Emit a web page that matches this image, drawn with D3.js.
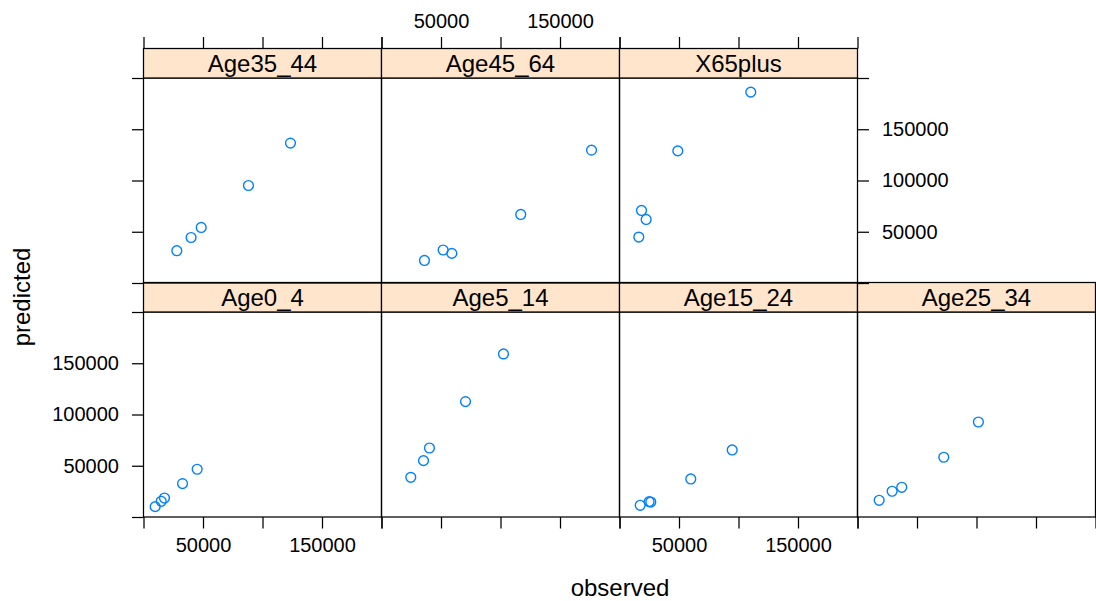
<!DOCTYPE html>
<html>
<head>
<meta charset="utf-8">
<script src="https://cdn.jsdelivr.net/npm/d3@7"></script>
<style>
  html, body { margin: 0; padding: 0; background: #fff; }
  svg { display: block; }
  text { font-family: "Liberation Sans", Arial, Helvetica, sans-serif; fill: #000; }
</style>
</head>
<body>
<svg id="chart" width="1096" height="601"></svg>
<script>
// ---- data ----
const panelNames = ["Age0_4", "Age5_14", "Age15_24", "Age25_34", "Age35_44", "Age45_64", "X65plus"];
const obsAge0_4    = [9800, 14900, 17600, 32800, 45100];
const predAge0_4   = [10100, 15300, 18500, 32600, 46600];
const obsAge5_14   = [24600, 35300, 40300, 70600, 102500];
const predAge5_14  = [38700, 55000, 67300, 112600, 159100];
const obsAge15_24  = [17400, 24900, 26300, 59900, 94700];
const predAge15_24 = [11400, 15000, 14600, 37100, 65400];
const obsAge25_34  = [18200, 29100, 37200, 72500, 101600];
const predAge25_34 = [16300, 25100, 29000, 58300, 92700];
const obsAge35_44  = [28000, 40000, 48500, 88200, 123500];
const predAge35_44 = [31500, 44400, 54200, 95100, 136500];
const obsAge45_64  = [36100, 51800, 59100, 117000, 176500];
const predAge45_64 = [22000, 32200, 28900, 66900, 129600];
const obsX65plus   = [16200, 18500, 22400, 49000, 110300];
const predX65plus  = [44800, 70800, 62000, 128900, 186200];
const tickValues = [0, 50000, 100000, 150000, 200000];
const labelledX = [50000, 150000];
const labelledY = [50000, 100000, 150000];
const xLabel = "observed";
const yLabel = "predicted";

const observed = [obsAge0_4, obsAge5_14, obsAge15_24, obsAge25_34, obsAge35_44, obsAge45_64, obsX65plus];
const predicted = [predAge0_4, predAge5_14, predAge15_24, predAge25_34, predAge35_44, predAge45_64, predX65plus];

// ---- layout ----
const svg = d3.select("#chart");
const panelW = 238, panelH = 205, stripH = 29.5;
const left0 = 143.5;
const rowTop = [312, 78];         // panel top (row 0 = bottom row, row 1 = top row)
const stripTop = [282.5, 48.5];
const tickLen = 11.5;
const tickFont = 20, labelFont = 24;
const lineW = 1.25;

const x = d3.scaleLinear().domain([0, 200000]).range([0, panelW]);
const y = d3.scaleLinear().domain([0, 200000]).range([panelH, 0]);

const fmt = d => String(d);

panelNames.forEach((name, i) => {
  const row = i < 4 ? 0 : 1;
  const col = i < 4 ? i : i - 4;
  const px = left0 + col * panelW;
  const py = rowTop[row];
  const g = svg.append("g").attr("transform", `translate(${px},${py})`);

  // strip
  svg.append("rect")
    .attr("x", px).attr("y", stripTop[row])
    .attr("width", panelW).attr("height", stripH)
    .attr("fill", "#FFE5CC").attr("stroke", "#000").attr("stroke-width", lineW);
  svg.append("text")
    .attr("x", px + panelW / 2).attr("y", stripTop[row] + stripH / 2)
    .attr("text-anchor", "middle").attr("dominant-baseline", "central")
    .attr("font-size", labelFont).text(name);

  // points
  g.selectAll("circle").data(observed[i].map((o, k) => [o, predicted[i][k]]))
    .enter().append("circle")
    .attr("cx", d => x(d[0])).attr("cy", d => y(d[1]))
    .attr("r", 4.9).attr("fill", "none")
    .attr("stroke", "#0080ff").attr("stroke-width", 1.4);

  // panel border
  g.append("rect").attr("x", 0).attr("y", 0)
    .attr("width", panelW).attr("height", panelH)
    .attr("fill", "none").attr("stroke", "#000").attr("stroke-width", lineW);

  // left axis (first column)
  if (col === 0) {
    const ax = d3.axisLeft(y).tickValues(tickValues).tickSizeOuter(0).tickSizeInner(tickLen).tickPadding(13)
      .tickFormat(d => (row === 0 && labelledY.includes(d)) ? fmt(d) : "");
    const a = g.append("g").call(ax);
    a.select(".domain").remove();
    a.selectAll("text").attr("font-size", tickFont).attr("font-family", null);
  }
  // bottom axis (bottom row)
  if (row === 0) {
    const ax = d3.axisBottom(x).tickValues(tickValues).tickSizeOuter(0).tickSizeInner(tickLen).tickPadding(9)
      .tickFormat(d => (col % 2 === 0 && labelledX.includes(d)) ? fmt(d) : "");
    const a = g.append("g").attr("transform", `translate(0,${panelH})`).call(ax);
    a.select(".domain").remove();
    a.selectAll("text").attr("font-size", tickFont).attr("font-family", null);
  }
  // top axis (top row, above strip)
  if (row === 1) {
    const ax = d3.axisTop(x).tickValues(tickValues).tickSizeOuter(0).tickSizeInner(tickLen).tickPadding(9)
      .tickFormat(d => (col === 1 && labelledX.includes(d)) ? fmt(d) : "");
    const a = svg.append("g").attr("transform", `translate(${px},${stripTop[row]})`).call(ax);
    a.select(".domain").remove();
    a.selectAll("text").attr("font-size", tickFont).attr("font-family", null);
  }
  // right axis (last panel of each row)
  if ((row === 0 && col === 3) || (row === 1 && col === 2)) {
    const ax = d3.axisRight(y).tickValues(tickValues).tickSizeOuter(0).tickSizeInner(tickLen).tickPadding(13)
      .tickFormat(d => (row === 1 && labelledY.includes(d)) ? fmt(d) : "");
    const a = g.append("g").attr("transform", `translate(${panelW},0)`).call(ax);
    a.select(".domain").remove();
    a.selectAll("text").attr("font-size", tickFont).attr("font-family", null);
  }
});

svg.selectAll(".tick line").attr("stroke", "#000").attr("stroke-width", lineW);

// axis titles
svg.append("text").attr("x", 620).attr("y", 596)
  .attr("text-anchor", "middle").attr("font-size", labelFont).text(xLabel);
svg.append("text")
  .attr("transform", "translate(30,297) rotate(-90)")
  .attr("text-anchor", "middle").attr("font-size", labelFont).text(yLabel);
</script>
</body>
</html>
